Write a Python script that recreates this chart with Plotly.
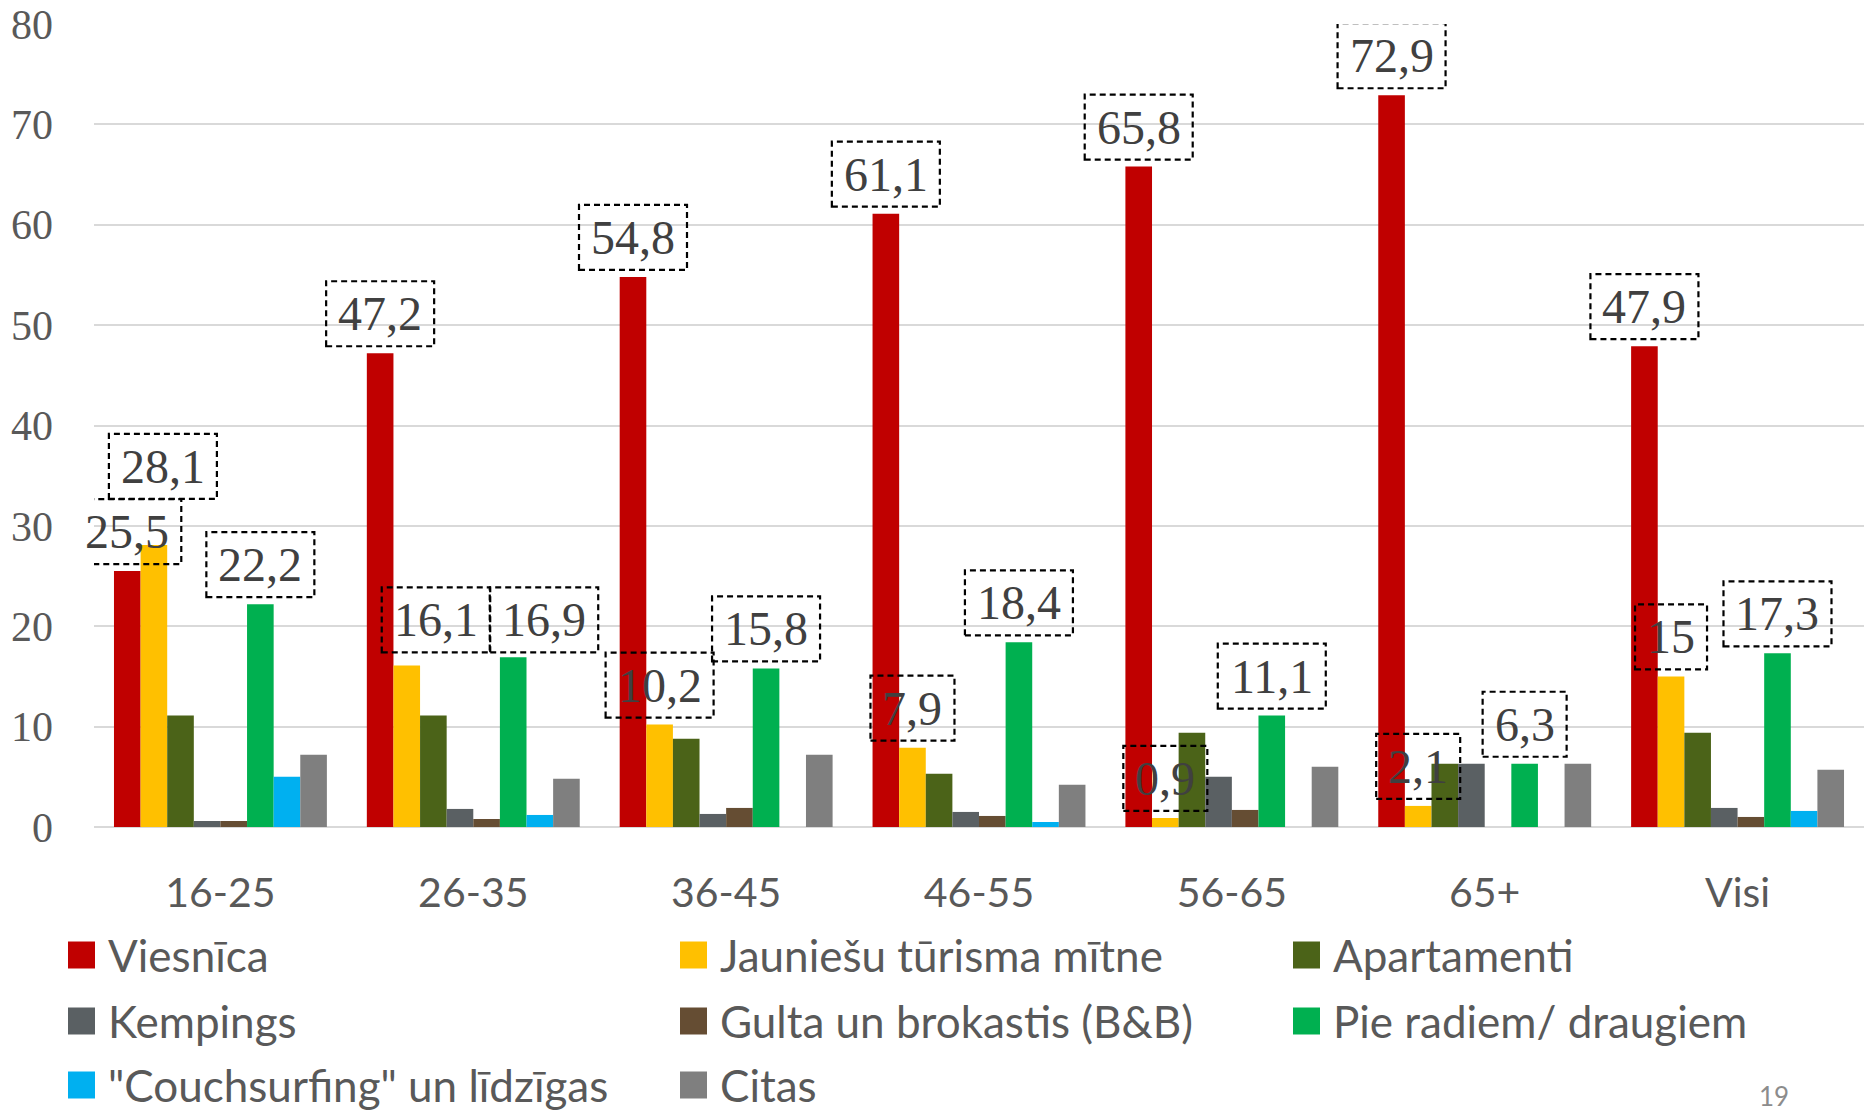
import plotly.graph_objects as go

# ---------------- data ----------------
categories = ["16-25", "26-35", "36-45", "46-55", "56-65", "65+", "Visi"]

viesnica    = [25.5, 47.2, 54.8, 61.1, 65.8, 72.9, 47.9]
jauniesu    = [28.1, 16.1, 10.2, 7.9, 0.9, 2.1, 15.0]
apartamenti = [11.1, 11.1, 8.8, 5.3, 9.4, 6.3, 9.4]
kempings    = [0.6, 1.8, 1.3, 1.5, 5.0, 6.3, 1.9]
gulta_bb    = [0.6, 0.8, 1.9, 1.1, 1.7, 0.0, 1.0]
pie_radiem  = [22.2, 16.9, 15.8, 18.4, 11.1, 6.3, 17.3]
couchsurf   = [5.0, 1.2, 0.0, 0.5, 0.0, 0.0, 1.6]
citas       = [7.2, 4.8, 7.2, 4.2, 6.0, 6.3, 5.7]

series_names = ["Viesnīca", "Jauniešu tūrisma mītne", "Apartamenti", "Kempings",
                "Gulta un brokastis (B&B)", "Pie radiem/ draugiem",
                "\"Couchsurfing\" un līdzīgas", "Citas"]
series_values = [viesnica, jauniesu, apartamenti, kempings, gulta_bb,
                 pie_radiem, couchsurf, citas]
labelled_series = [0, 1, 5]

y_ticks = [0, 10, 20, 30, 40, 50, 60, 70, 80]

# ---------------- styles ----------------
colors = ["#C00000", "#FFC000", "#4B6318", "#5A6063", "#654D33",
          "#00B050", "#00B0F0", "#7F7F7F"]
W, H = 1866, 1111
ML, MR, MT, MB = 94, 2, 24, 284
BARGAP = 0.158
NSER = len(series_names)

# manual label nudges (pixels): (category index, series index) -> (dx, dy)
label_nudge = {(0, 1): (9, 39), (1, 1): (29, 6), (1, 5): (31, -2)}

SERIF = "Liberation Serif, DejaVu Serif, serif"
SANS = "Lato, Open Sans, sans-serif"

plot_w = W - ML - MR
plot_h = H - MT - MB


def px_x(X):
    return (X - ML) / plot_w


def px_y(Y):
    return (H - MB - Y) / plot_h


def fmt(v):
    return f"{v:g}".replace(".", ",")


fig = go.Figure()
for name, vals, col in zip(series_names, series_values, colors):
    fig.add_trace(go.Bar(x=categories, y=vals, name=name, marker_color=col,
                         marker_line_width=0, showlegend=False))

# data labels with dashed boxes
slot = (1 - BARGAP) / NSER
DIGIT, COMMA, PAD = 24, 12, 12
BOX_H, GAP = 65, 7
for si in labelled_series:
    for ci, v in enumerate(series_values[si]):
        xpos = ci + (si - (NSER - 1) / 2) * slot
        txt = fmt(v)
        tw = sum(COMMA if ch == "," else DIGIT for ch in txt)
        bw = tw + 2 * PAD
        dx, dy = label_nudge.get((ci, si), (0, 0))
        fig.add_shape(type="rect", xref="x", yref="y",
                      xsizemode="pixel", ysizemode="pixel",
                      xanchor=xpos, yanchor=v,
                      x0=-bw / 2 + dx, x1=bw / 2 + dx,
                      y0=GAP + dy, y1=GAP + BOX_H + dy,
                      line=dict(color="#000000", width=2.2, dash="6px,4px"),
                      fillcolor="rgba(0,0,0,0)", layer="above")
        fig.add_annotation(x=xpos, y=v, xref="x", yref="y", text=txt,
                           showarrow=False, xanchor="center", yanchor="middle",
                           xshift=dx, yshift=GAP + BOX_H / 2 + dy,
                           font=dict(family=SERIF, size=48, color="#404040"))

# legend (3 columns)
leg_cols_x = [68, 680, 1293]
leg_rows_y = [955, 1021, 1085]
MK = 27
for k, (name, col) in enumerate(zip(series_names, colors)):
    r, c = divmod(k, 3)
    X0, Yc = leg_cols_x[c], leg_rows_y[r]
    fig.add_shape(type="rect", xref="paper", yref="paper",
                  x0=px_x(X0), x1=px_x(X0 + MK),
                  y0=px_y(Yc + MK / 2), y1=px_y(Yc - MK / 2),
                  line=dict(width=0), fillcolor=col)
    fig.add_annotation(x=px_x(X0 + MK + 11), y=px_y(Yc), xref="paper", yref="paper",
                       text=name, showarrow=False, xanchor="left", yanchor="middle",
                       font=dict(family=SANS, size=44, color="#595959"))

# page number
fig.add_annotation(x=px_x(1774), y=px_y(1096), xref="paper", yref="paper",
                   text="19", showarrow=False, xanchor="center", yanchor="middle",
                   font=dict(family=SANS, size=26, color="#8C8C8C"))

fig.update_layout(
    width=W, height=H,
    margin=dict(l=ML, r=MR, t=MT, b=MB),
    paper_bgcolor="white", plot_bgcolor="white",
    barmode="group", bargap=BARGAP, bargroupgap=0,
    showlegend=False,
    xaxis=dict(type="category", range=[-0.5, len(categories) - 0.5],
               showgrid=False, showline=False, zeroline=False, ticks="",
               tickfont=dict(family=SANS, size=41, color="#595959"),
               ticklabelstandoff=38),
    yaxis=dict(range=[0, 80], tickvals=y_ticks, showgrid=True,
               gridcolor="#D9D9D9", gridwidth=2, zeroline=True,
               zerolinecolor="#D9D9D9", zerolinewidth=2, showline=False,
               ticks="", tickfont=dict(family=SERIF, size=42, color="#595959"),
               ticklabelstandoff=40),
)

fig.write_html("out.html", config={"displayModeBar": False},
               post_script="document.body.style.margin='0';")
